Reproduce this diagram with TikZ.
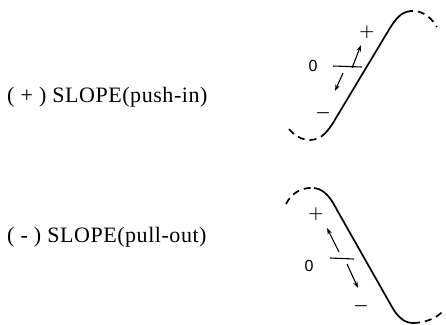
\documentclass[tikz,border=0pt]{standalone}
\usepackage{fontspec}
\setmainfont{Liberation Serif}[LetterSpace=2.5]
\newfontfamily\lsans{Liberation Sans}
\usetikzlibrary{arrows.meta}
\tikzset{
  curvesolid/.style={line width=1.7pt},
  curvedash/.style={line width=1.7pt, dash pattern=on 7pt off 5pt},
  slopearrow/.style={line width=1.1pt, -{Stealth[length=6.5pt,width=4.5pt]}},
  tickline/.style={line width=1.1pt},
  biglabel/.style={font=\fontsize{22}{24}\selectfont, anchor=west, inner sep=0pt},
  zerolabel/.style={font=\lsans\fontsize{16}{16}\selectfont, inner sep=0pt},
  signlabel/.style={font=\fontsize{19}{19}\selectfont\boldmath, inner sep=0pt}
}
\begin{document}
\begin{tikzpicture}[x=1pt,y=-1pt]
\useasboundingbox (0,0) rectangle (446,324);
% labels
\node[biglabel] (lab1) at (7,97) {( + ) SLOPE(push-in)};
\node[biglabel] (lab2) at (7,237) {( - ) SLOPE(pull-out)};
% top curve
\draw[curvedash] (289,129) .. controls (299,141) and (312,143) .. (322,136);
\draw[curvesolid] (322,136) .. controls (326,133) and (329,129) .. (333,123) -- (390,28) .. controls (395,20) and (400,14) .. (406,12);
\draw[curvedash] (406,12) .. controls (418,8) and (430,15) .. (437,27);
% top marks
\node[signlabel] (p1) at (367,32) {$+$};
\node[zerolabel] (z1) at (313,66) {0};
\node[signlabel] (m1) at (323,113) {$-$};
\coordinate (t1a) at (333,66);
\coordinate (t1b) at (362,67);
\draw[tickline] (t1a) -- (t1b);
\coordinate (u1s) at (352,68);
\coordinate (u1e) at (361,45);
\draw[slopearrow] (u1s) -- (u1e);
\coordinate (d1s) at (343,73);
\coordinate (d1e) at (335,91);
\draw[slopearrow] (d1s) -- (d1e);
% bottom curve
\draw[curvedash] (286,204) .. controls (292,192) and (303,187) .. (314,188);
\draw[curvesolid] (314,188) .. controls (325,189) and (332,200) .. (337,210) -- (392,307) .. controls (397,316) and (404,323) .. (413,323);
\draw[curvedash] (413,323) .. controls (425,323) and (437,318) .. (443,311);
% bottom marks
\node[signlabel] (p2) at (316,214) {$+$};
\node[zerolabel] (z2) at (309,266) {0};
\node[signlabel] (m2) at (361,306) {$-$};
\coordinate (t2a) at (330,258);
\coordinate (t2b) at (354,259);
\draw[tickline] (t2a) -- (t2b);
\coordinate (u2s) at (339,252);
\coordinate (u2e) at (327,228);
\draw[slopearrow] (u2s) -- (u2e);
\coordinate (d2s) at (347,264);
\coordinate (d2e) at (358,288);
\draw[slopearrow] (d2s) -- (d2e);
\end{tikzpicture}
\end{document}
